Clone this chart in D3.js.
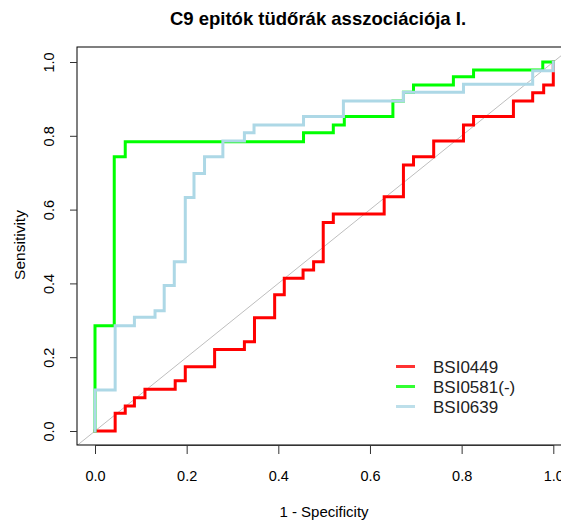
<!DOCTYPE html>
<html lang="hu">
<meta charset="UTF-8">
<title>C9 epitók tüdőrák asszociációja I.</title>
<script src="https://d3js.org/d3.v7.min.js"></script>
<style>
  body { margin: 0; background: #fff; }
  svg { display: block; }
  text { font-family: "Liberation Sans", Arial, sans-serif; }
</style>
<body>
<svg width="561" height="523"></svg>
<script>
// ROC step points (x = 1 - specificity, y = sensitivity)
var bsi0449_fpr = [0, 0.044, 0.066, 0.086, 0.109, 0.175, 0.197, 0.261, 0.326, 0.348, 0.392, 0.413, 0.454, 0.477, 0.498, 0.520, 0.631, 0.673, 0.695, 0.739, 0.804, 0.826, 0.913, 0.955, 0.979, 1.0];
var bsi0449_sens = [0, 0.048, 0.068, 0.090, 0.113, 0.136, 0.174, 0.221, 0.242, 0.307, 0.369, 0.414, 0.436, 0.459, 0.565, 0.588, 0.635, 0.721, 0.743, 0.786, 0.829, 0.852, 0.894, 0.917, 0.938, 1.0];

var bsi0581_fpr = [0, 0, 0.042, 0.066, 0.455, 0.520, 0.544, 0.650, 0.673, 0.695, 0.782, 0.826, 0.977, 1.0];
var bsi0581_sens = [0, 0.285, 0.743, 0.784, 0.808, 0.829, 0.852, 0.894, 0.918, 0.938, 0.960, 0.978, 1.0, 1.0];

var bsi0639_fpr = [0, 0, 0.044, 0.086, 0.131, 0.151, 0.173, 0.197, 0.216, 0.239, 0.279, 0.326, 0.347, 0.455, 0.542, 0.673, 0.804, 0.955, 1.0];
var bsi0639_sens = [0, 0.111, 0.285, 0.308, 0.326, 0.394, 0.459, 0.633, 0.698, 0.743, 0.786, 0.808, 0.829, 0.852, 0.894, 0.918, 0.940, 0.976, 1.0];

var seriesNames = ["BSI0449", "BSI0581(-)", "BSI0639"];
var seriesColors = ["#ff0000", "#00ff00", "#add8e6"];
var tickValues = [0, 0.2, 0.4, 0.6, 0.8, 1.0];

var svg = d3.select("svg");

// plot box (R style, 4% padding around the 0..1 range)
var box = { left: 77, top: 47, right: 572, bottom: 445 };
var x = d3.scaleLinear().domain([0, 1]).range([95, 553.3]);
var y = d3.scaleLinear().domain([0, 1]).range([431, 62]);

svg.append("clipPath").attr("id", "plotclip")
  .append("rect")
    .attr("x", box.left).attr("y", box.top)
    .attr("width", box.right - box.left).attr("height", box.bottom - box.top);

// diagonal reference line
svg.append("line")
  .attr("clip-path", "url(#plotclip)")
  .attr("x1", x(-0.1)).attr("y1", y(-0.1))
  .attr("x2", x(1.1)).attr("y2", y(1.1))
  .attr("stroke", "#bebebe").attr("stroke-width", 1);

var line = d3.line()
  .x(function(d) { return x(d[0]); })
  .y(function(d) { return y(d[1]); })
  .curve(d3.curveStepAfter);

var curves = [
  d3.zip(bsi0449_fpr, bsi0449_sens),
  d3.zip(bsi0581_fpr, bsi0581_sens),
  d3.zip(bsi0639_fpr, bsi0639_sens)
];

svg.selectAll(".roc")
  .data(curves)
  .enter()
  .append("path")
    .attr("class", "roc")
    .attr("clip-path", "url(#plotclip)")
    .attr("d", line)
    .attr("fill", "none")
    .attr("stroke", function(d, i) { return seriesColors[i]; })
    .attr("stroke-width", 3)
    .attr("stroke-linejoin", "miter")
    .attr("stroke-linecap", "square");

// box
svg.append("rect")
  .attr("x", box.left).attr("y", box.top)
  .attr("width", box.right - box.left).attr("height", box.bottom - box.top)
  .attr("fill", "none").attr("stroke", "#000").attr("stroke-width", 1);

// x axis
var xAxis = svg.append("g")
  .attr("transform", "translate(0," + box.bottom + ")")
  .call(d3.axisBottom(x).tickValues(tickValues).tickFormat(d3.format(".1f")).tickSize(9).tickSizeOuter(0).tickPadding(17));
xAxis.select(".domain").attr("stroke", "#333");
xAxis.selectAll(".tick line").attr("stroke", "#333");
xAxis.selectAll("text").attr("font-size", 14.5).attr("fill", "#000")
  .attr("font-family", "Liberation Sans, Arial, sans-serif");

// y axis
var yAxis = svg.append("g")
  .attr("transform", "translate(" + box.left + ",0)")
  .call(d3.axisLeft(y).tickValues(tickValues).tickFormat(d3.format(".1f")).tickSize(7).tickSizeOuter(0));
yAxis.select(".domain").remove();
yAxis.selectAll(".tick line").attr("stroke", "#333");
yAxis.selectAll("text")
  .attr("x", 0).attr("dy", 0)
  .attr("text-anchor", "middle")
  .attr("transform", "translate(-23,0) rotate(-90)")
  .attr("font-size", 14.5).attr("fill", "#000")
  .attr("font-family", "Liberation Sans, Arial, sans-serif");

// titles
svg.append("text")
  .attr("x", 318).attr("y", 25)
  .attr("text-anchor", "middle")
  .attr("font-size", 18.5).attr("font-weight", "bold")
  .text("C9 epitók tüdőrák asszociációja I.");

svg.append("text")
  .attr("x", 324).attr("y", 517)
  .attr("text-anchor", "middle")
  .attr("font-size", 15)
  .text("1 - Specificity");

svg.append("text")
  .attr("transform", "translate(25,245) rotate(-90)")
  .attr("text-anchor", "middle")
  .attr("font-size", 15.5)
  .text("Sensitivity");

// legend
var legend = svg.selectAll(".leg")
  .data(seriesNames)
  .enter()
  .append("g")
    .attr("class", "leg")
    .attr("transform", function(d, i) { return "translate(396," + (366.5 + i * 20) + ")"; });

legend.append("line")
  .attr("x1", 0).attr("x2", 19)
  .attr("stroke", function(d, i) { return seriesColors[i]; })
  .attr("stroke-width", 3)
  .attr("opacity", 0.8);

legend.append("text")
  .attr("x", 37).attr("dy", "0.36em")
  .attr("font-family", "Open Sans, Noto Sans, sans-serif")
  .attr("font-size", 17)
  .attr("fill", "#222")
  .text(function(d) { return d; });
</script>
</body>
</html>
